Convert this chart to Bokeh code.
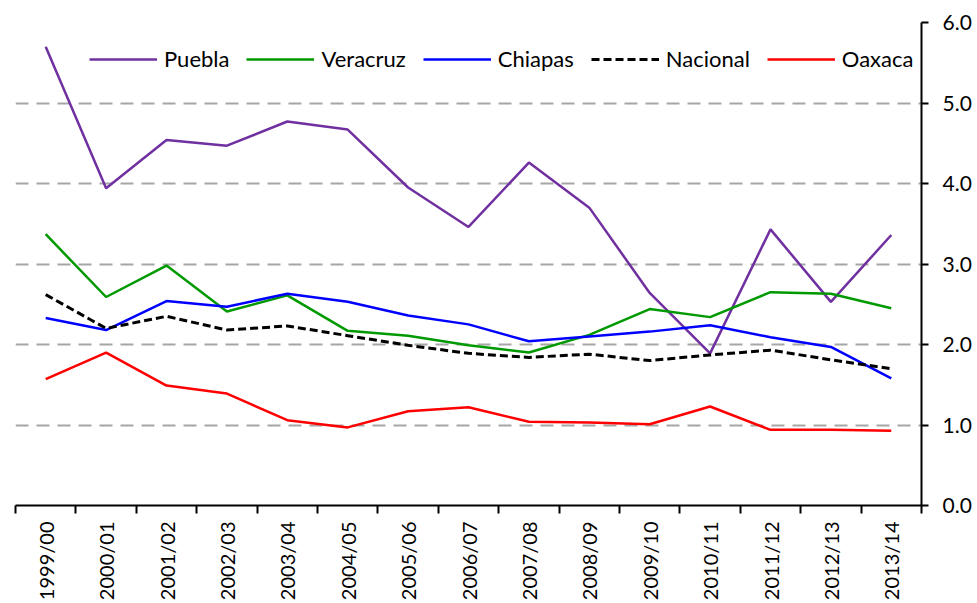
import math
from bokeh.plotting import figure
from bokeh.models import FixedTicker, Legend, LegendItem, Range1d
from bokeh.embed import file_html
from bokeh.resources import INLINE

categories = ["1999/00", "2000/01", "2001/02", "2002/03", "2003/04", "2004/05", "2005/06",
              "2006/07", "2007/08", "2008/09", "2009/10", "2010/11", "2011/12", "2012/13", "2013/14"]
puebla   = [5.70, 3.94, 4.54, 4.47, 4.77, 4.67, 3.95, 3.46, 4.26, 3.70, 2.64, 1.89, 3.43, 2.53, 3.36]
veracruz = [3.37, 2.59, 2.98, 2.41, 2.61, 2.17, 2.11, 1.99, 1.90, 2.12, 2.44, 2.34, 2.65, 2.63, 2.45]
chiapas  = [2.33, 2.18, 2.54, 2.47, 2.63, 2.53, 2.36, 2.25, 2.04, 2.10, 2.16, 2.24, 2.09, 1.97, 1.58]
nacional = [2.62, 2.20, 2.35, 2.18, 2.23, 2.11, 1.99, 1.89, 1.84, 1.88, 1.80, 1.87, 1.93, 1.81, 1.70]
oaxaca   = [1.57, 1.90, 1.49, 1.39, 1.06, 0.97, 1.17, 1.22, 1.04, 1.03, 1.01, 1.23, 0.94, 0.94, 0.93]
y_ticks = [0, 1, 2, 3, 4, 5, 6]

FONT = "Lato"
xs = [i + 0.5 for i in range(len(categories))]

p = figure(width=977, height=603, output_backend="svg", toolbar_location=None,
           x_range=Range1d(0, len(categories)), y_range=Range1d(0, 6),
           y_axis_location="right",
           min_border_left=15, min_border_top=22, min_border_right=56, min_border_bottom=97)
p.outline_line_color = None
p.background_fill_color = "white"
p.border_fill_color = "white"

series = [
    ("Puebla", puebla, "#7030A0", None, 2.5),
    ("Veracruz", veracruz, "#009900", None, 2.5),
    ("Chiapas", chiapas, "#0000FF", None, 2.5),
    ("Nacional", nacional, "#000000", "8 4", 3),
    ("Oaxaca", oaxaca, "#FF0000", None, 2.5),
]
items = []
for name, vals, color, dash, lw in series:
    kw = {}
    if dash:
        kw["line_dash"] = dash
    r = p.line(xs, vals, line_color=color, line_width=lw, **kw)
    items.append(LegendItem(label=name, renderers=[r]))

# x axis
xa = p.xaxis[0]
xa.ticker = FixedTicker(ticks=xs, minor_ticks=list(range(len(categories) + 1)))
xa.major_label_overrides = {x: c for x, c in zip(xs, categories)}
xa.major_tick_line_color = None
xa.minor_tick_line_color = "black"
xa.minor_tick_line_width = 2
xa.minor_tick_out = 8
xa.minor_tick_in = 0
xa.axis_line_color = "black"
xa.axis_line_width = 2
xa.major_label_orientation = math.pi / 2
xa.major_label_text_font = FONT
xa.major_label_text_font_size = "20px"
xa.major_label_text_color = "black"
xa.major_label_standoff = 8

# y axis
ya = p.yaxis[0]
ya.ticker = FixedTicker(ticks=y_ticks, minor_ticks=[])
ya.major_label_overrides = {t: f"{t:.1f}" for t in y_ticks}
ya.axis_line_color = "black"
ya.axis_line_width = 2
ya.major_tick_line_color = "black"
ya.major_tick_line_width = 2
ya.major_tick_out = 7
ya.major_tick_in = 0
ya.minor_tick_line_color = None
ya.major_label_text_font = FONT
ya.major_label_text_font_size = "21px"
ya.major_label_text_color = "black"
ya.major_label_standoff = 14

p.xgrid.grid_line_color = None
p.ygrid.ticker = FixedTicker(ticks=[1, 2, 3, 4, 5, 6])
p.ygrid.grid_line_color = "#A6A6A6"
p.ygrid.grid_line_width = 2
p.ygrid.grid_line_dash = "13 8"

legend = Legend(items=items, orientation="horizontal", location=(74, 433))
legend.border_line_color = None
legend.background_fill_alpha = 0
legend.padding = 0
legend.margin = 0
legend.spacing = 17
legend.label_standoff = 7
legend.glyph_width = 68
legend.glyph_height = 20
legend.label_height = 20
legend.label_text_font = FONT
legend.label_text_font_size = "22px"
legend.label_text_color = "black"
p.add_layout(legend, "center")

open("out.html", "w").write(file_html(p, INLINE))
